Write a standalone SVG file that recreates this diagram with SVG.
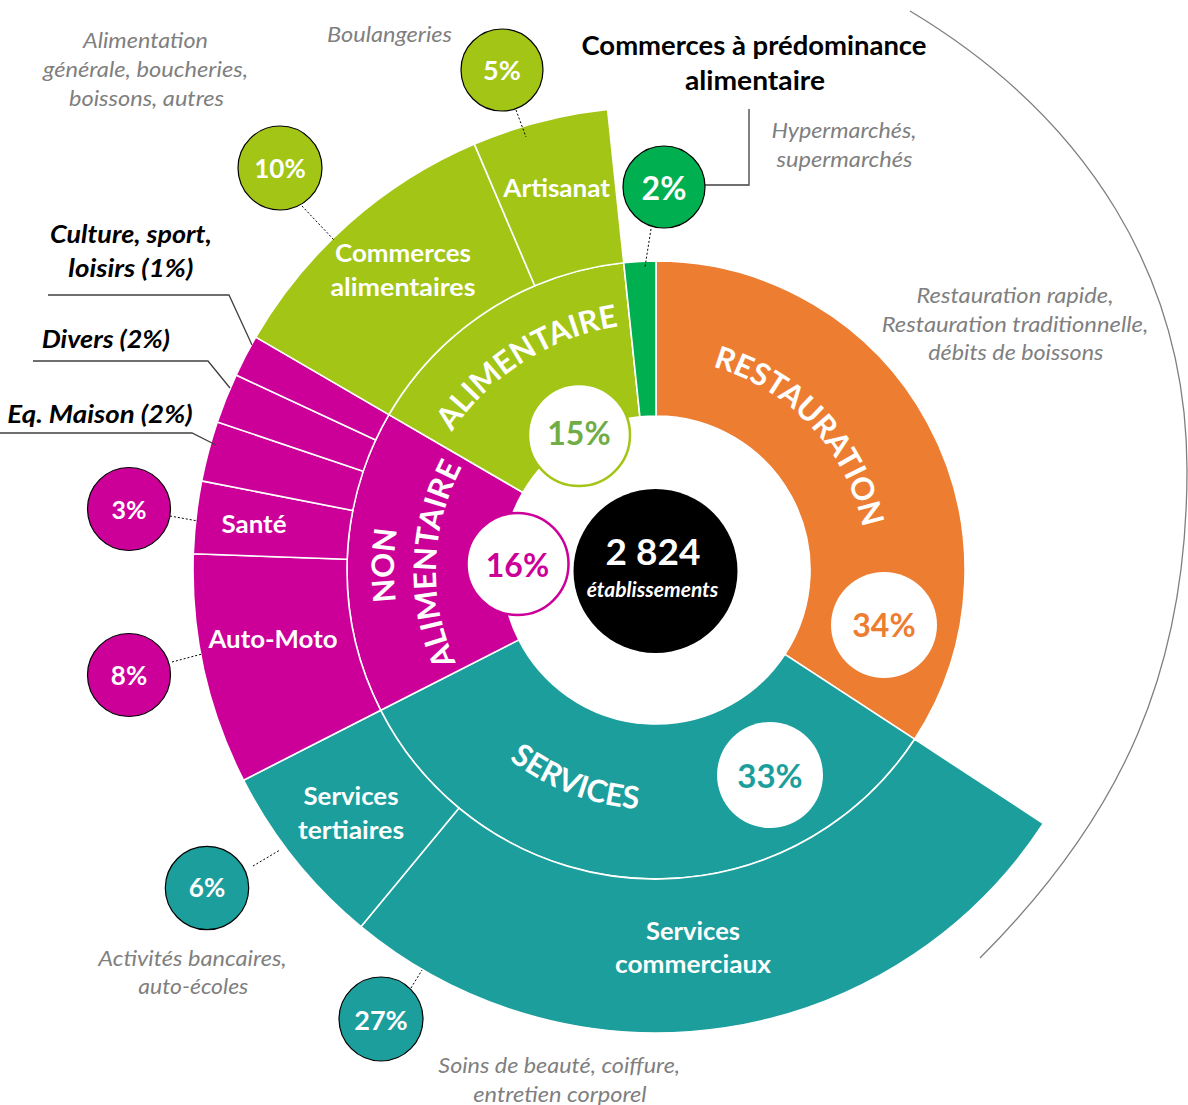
<svg xmlns="http://www.w3.org/2000/svg" width="1188" height="1105" viewBox="0 0 1188 1105">
<style>
.seg{stroke:#fff;stroke-width:1.6;stroke-linejoin:round}
.lime{fill:#A2C516}.dg{fill:#00B050}.org{fill:#ED7D31}.teal{fill:#1B9E9C}.mag{fill:#CC0099}
.wl{font-family:Lato,"Open Sans",sans-serif;font-weight:700;fill:#fff;text-anchor:middle}
.arc{font-family:Lato,"Open Sans",sans-serif;font-weight:700;fill:#fff;font-size:31px}
.grey{font-family:Lato,"Open Sans",sans-serif;font-style:italic;fill:#7F7F7F;font-size:21.5px;text-anchor:middle}
.blk{font-family:Lato,"Open Sans",sans-serif;font-style:italic;font-weight:700;fill:#000;font-size:25px;text-anchor:middle}
.ttl{font-family:Lato,"Open Sans",sans-serif;font-weight:700;fill:#000;font-size:26px;text-anchor:middle}
.badge{stroke:#000;stroke-width:1.2}
.dot{stroke:#000;stroke-width:1;stroke-dasharray:2 2;fill:none}
.lead{stroke:#404040;stroke-width:1.3;fill:none}
</style>
<defs>
<path id="pRest" d="M645,359.3 A211 211 0 0 1 865.4,595.7"/>
<path id="pAlim" d="M411.7,537 A246.5 246.5 0 0 1 730.9,335.2"/>
<path id="pServ" d="M429.4,648 A239.5 239.5 0 0 0 772.1,779.5"/>
<path id="pNon" d="M455.3,738.4 A262 262 0 0 1 461.3,394.7"/>
<path id="pNonAlim" d="M508.5,734.2 A220 220 0 0 1 519.1,398.7"/>
</defs>
<rect width="1188" height="1105" fill="#fff"/>
<path id="big-arc" d="M910,11 C1090,119 1187,280 1187,470 C1187,667 1125,813 980,958" fill="none" stroke="#7F7F7F" stroke-width="1.3"/>

<g id="restauration">
<path class="seg org" d="M656,261 A309 309 0 0 1 914.6,739.2 L784.9,654.3 A154 154 0 0 0 656,416 Z"/>
<text class="arc"><textPath href="#pRest" startOffset="50%" text-anchor="middle">RESTAURATION</textPath></text>
</g>
<g id="services">
<path class="seg teal" d="M914.6,739.2 A309 309 0 0 1 380.7,710.3 L518.8,639.9 A154 154 0 0 0 784.9,654.3 Z"/>
<text class="arc"><textPath href="#pServ" startOffset="50%" text-anchor="middle">SERVICES</textPath></text>
</g>
<g id="services-commerciaux">
<path class="seg teal" d="M1043.4,823.5 A463 463 0 0 1 360.9,926.7 L459,808.1 A309 309 0 0 0 914.6,739.2 Z"/>
<text class="wl" font-size="25" x="693" y="940" textLength="94" lengthAdjust="spacingAndGlyphs">Services</text>
<text class="wl" font-size="25" x="693" y="973" textLength="156" lengthAdjust="spacingAndGlyphs">commerciaux</text>
</g>
<g id="services-tertiaires">
<path class="seg teal" d="M360.9,926.7 A463 463 0 0 1 243.5,780.2 L380.7,710.3 A309 309 0 0 0 459,808.1 Z"/>
<text class="wl" font-size="25" x="351" y="805" textLength="95" lengthAdjust="spacingAndGlyphs">Services</text>
<text class="wl" font-size="25" x="351" y="839" textLength="106" lengthAdjust="spacingAndGlyphs">tertiaires</text>
</g>
<g id="non-alimentaire">
<path class="seg mag" d="M380.7,710.3 A309 309 0 0 1 388.9,414.6 L522.9,492.5 A154 154 0 0 0 518.8,639.9 Z"/>
<text class="arc"><textPath href="#pNon" startOffset="50%" text-anchor="middle">NON</textPath></text>
<text class="arc"><textPath href="#pNonAlim" startOffset="50%" text-anchor="middle">ALIMENTAIRE</textPath></text>
</g>
<g id="auto-moto">
<path class="seg mag" d="M243.5,780.2 A463 463 0 0 1 193.3,553.8 L347.2,559.2 A309 309 0 0 0 380.7,710.3 Z"/>
<text class="wl" font-size="25" x="273" y="648" textLength="129" lengthAdjust="spacingAndGlyphs">Auto-Moto</text>
</g>
<g id="sante">
<path class="seg mag" d="M193.3,553.8 A463 463 0 0 1 201.7,480.9 L352.8,510.5 A309 309 0 0 0 347.2,559.2 Z"/>
<text class="wl" font-size="25" x="254" y="533" textLength="65" lengthAdjust="spacingAndGlyphs">Santé</text>
</g>
<g id="eq-maison"><path class="seg mag" d="M201.7,480.9 A463 463 0 0 1 217.3,421.9 L363.2,471.2 A309 309 0 0 0 352.8,510.5 Z"/></g>
<g id="divers"><path class="seg mag" d="M217.3,421.9 A463 463 0 0 1 236.1,375.1 L375.7,439.9 A309 309 0 0 0 363.2,471.2 Z"/></g>
<g id="culture"><path class="seg mag" d="M236.1,375.1 A463 463 0 0 1 255.8,337.1 L388.9,414.6 A309 309 0 0 0 375.7,439.9 Z"/></g>
<g id="alimentaire">
<path class="seg lime" d="M388.9,414.6 A309 309 0 0 1 623.7,262.7 L639.9,416.8 A154 154 0 0 0 522.9,492.5 Z"/>
<text class="arc"><textPath href="#pAlim" startOffset="50%" text-anchor="middle">ALIMENTAIRE</textPath></text>
</g>
<g id="commerces-alimentaires">
<path class="seg lime" d="M255.8,337.1 A463 463 0 0 1 474.4,144.1 L534.8,285.8 A309 309 0 0 0 388.9,414.6 Z"/>
<text class="wl" font-size="25" x="403" y="262" textLength="136" lengthAdjust="spacingAndGlyphs">Commerces</text>
<text class="wl" font-size="25" x="403" y="296" textLength="145" lengthAdjust="spacingAndGlyphs">alimentaires</text>
</g>
<g id="artisanat">
<path class="seg lime" d="M474.4,144.1 A463 463 0 0 1 607.6,109.5 L623.7,262.7 A309 309 0 0 0 534.8,285.8 Z"/>
<text class="wl" font-size="25" x="556.7" y="197" textLength="106.7" lengthAdjust="spacingAndGlyphs">Artisanat</text>
</g>
<g id="predominance-alimentaire">
<path class="seg dg" d="M623.7,262.7 A309 309 0 0 1 656,261 L656,416 A154 154 0 0 0 639.9,416.8 Z"/>
</g>

<g id="connectors">
<path class="dot" d="M516,110 L526,137"/>
<path class="dot" d="M651,229 L645,267"/>
<path class="dot" d="M302,206 L334,240"/>
<path class="dot" d="M170,516 L198,521"/>
<path class="dot" d="M172,662 L202,654"/>
<path class="dot" d="M253,866 L280,850"/>
<path class="dot" d="M411,988 L422,970"/>
<path class="lead" d="M705,185 H749 V109"/>
<path class="lead" d="M48,295 H229 L252,345"/>
<path class="lead" d="M33,361 H208 L230,388"/>
<path class="lead" d="M0,433 H192 L216,445"/>
</g>

<g id="badge-5"><circle class="badge lime" cx="502" cy="70" r="41"/><text class="wl" font-size="27" x="502" y="79.5">5%</text></g>
<g id="badge-2"><circle class="badge dg" cx="664" cy="187" r="41"/><text class="wl" font-size="32" x="664" y="200">2%</text></g>
<g id="badge-10"><circle class="badge lime" cx="280" cy="168" r="42"/><text class="wl" font-size="26" x="280" y="178">10%</text></g>
<g id="badge-3"><circle class="badge mag" cx="129" cy="509" r="41.5"/><text class="wl" font-size="25" x="129" y="519">3%</text></g>
<g id="badge-8"><circle class="badge mag" cx="129" cy="675" r="41.5"/><text class="wl" font-size="26" x="129" y="685">8%</text></g>
<g id="badge-6"><circle class="badge teal" cx="207" cy="888" r="41.7"/><text class="wl" font-size="26" x="207" y="897">6%</text></g>
<g id="badge-27"><circle class="badge teal" cx="381" cy="1019" r="42"/><text class="wl" font-size="27" x="381" y="1030">27%</text></g>

<g id="pct-15"><circle cx="579" cy="435" r="51" fill="#fff" stroke="#A2C516" stroke-width="2.5"/><text class="wl" font-size="32" x="579" y="445" style="fill:#70AD47">15%</text></g>
<g id="pct-16"><circle cx="517.5" cy="564" r="51" fill="#fff" stroke="#CC0099" stroke-width="2.5"/><text class="wl" font-size="32" x="517.5" y="577" style="fill:#CC0099">16%</text></g>
<g id="pct-34"><circle cx="884" cy="625" r="53" fill="#fff"/><text class="wl" font-size="32" x="884" y="637" style="fill:#ED7D31">34%</text></g>
<g id="pct-33"><circle cx="770" cy="775" r="53" fill="#fff"/><text class="wl" font-size="33" x="770" y="788" style="fill:#1B9E9C">33%</text></g>
<g id="total"><circle cx="655.5" cy="571" r="82" fill="#000"/><text class="wl" font-size="37" x="653" y="565">2 824</text><text class="wl" font-size="20" font-style="italic" x="652.5" y="597" textLength="131.7" lengthAdjust="spacingAndGlyphs">établissements</text></g>

<g id="labels">
<text class="ttl" x="754" y="55" textLength="345" lengthAdjust="spacingAndGlyphs">Commerces à prédominance</text>
<text class="ttl" x="755" y="90" textLength="140" lengthAdjust="spacingAndGlyphs">alimentaire</text>
<text class="grey" x="145.5" y="48" textLength="125" lengthAdjust="spacingAndGlyphs">Alimentation</text>
<text class="grey" x="145.5" y="77" textLength="205" lengthAdjust="spacingAndGlyphs">générale, boucheries,</text>
<text class="grey" x="146.5" y="106" textLength="155" lengthAdjust="spacingAndGlyphs">boissons, autres</text>
<text class="grey" x="389.5" y="42" textLength="125" lengthAdjust="spacingAndGlyphs">Boulangeries</text>
<text class="grey" x="844" y="138" textLength="145" lengthAdjust="spacingAndGlyphs">Hypermarchés,</text>
<text class="grey" x="844.5" y="167" textLength="136" lengthAdjust="spacingAndGlyphs">supermarchés</text>
<text class="grey" x="1015" y="303" textLength="197" lengthAdjust="spacingAndGlyphs">Restauration rapide,</text>
<text class="grey" x="1015" y="332" textLength="266.7" lengthAdjust="spacingAndGlyphs">Restauration traditionnelle,</text>
<text class="grey" x="1015.8" y="360" textLength="175" lengthAdjust="spacingAndGlyphs">débits de boissons</text>
<text class="grey" x="192.5" y="966" textLength="188.3" lengthAdjust="spacingAndGlyphs">Activités bancaires,</text>
<text class="grey" x="193.3" y="994" textLength="110" lengthAdjust="spacingAndGlyphs">auto-écoles</text>
<text class="grey" x="559.2" y="1073" textLength="241.7" lengthAdjust="spacingAndGlyphs">Soins de beauté, coiffure,</text>
<text class="grey" x="560" y="1102" textLength="173.3" lengthAdjust="spacingAndGlyphs">entretien corporel</text>
<text class="blk" x="130.9" y="243" textLength="161.7" lengthAdjust="spacingAndGlyphs">Culture, sport,</text>
<text class="blk" x="130.8" y="277" textLength="125" lengthAdjust="spacingAndGlyphs">loisirs (1%)</text>
<text class="blk" x="105.9" y="348" textLength="128.3" lengthAdjust="spacingAndGlyphs">Divers (2%)</text>
<text class="blk" x="100" y="423" textLength="185.3" lengthAdjust="spacingAndGlyphs">Eq. Maison (2%)</text>
</g>
</svg>
